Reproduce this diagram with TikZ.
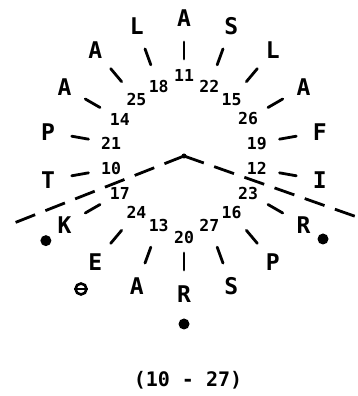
\documentclass[tikz,border=0pt]{standalone}
\usepackage{fontspec}
\setmonofont{DejaVu Sans Mono}
\usetikzlibrary{calc}
\tikzset{
  rs letter/.style={font=\ttfamily\bfseries\fontsize{23}{23}\selectfont, inner sep=0pt},
  rs number/.style={font=\ttfamily\bfseries\fontsize{16.5}{16.5}\selectfont, inner sep=0pt},
  rs tick/.style={line width=2.8pt, line cap=round},
  rs split/.style={line width=2.8pt, dash pattern=on 21pt off 11pt},
  rs hub/.style={circle, fill=black, minimum size=5pt, inner sep=0pt},
  rs dot/.style={circle, fill=black, minimum size=11pt, inner sep=0pt},
  rs ring/.style={circle, draw=black, line width=2.6pt, minimum size=11pt, inner sep=0pt},
  rs title/.style={font=\ttfamily\bfseries\fontsize{20}{20}\selectfont}
}

\begin{document}
\begin{tikzpicture}[x=1pt, y=1pt]
  \useasboundingbox (0,0) rectangle (357,396);
  \node[rs hub] (c) at (184,240) {};
  % spokes: angle / number / letter / number radius
  \foreach \a/\n/\l/\r in {90/11/A/81, 70/22/S/74, 50/15/L/74, 30/26/A/74,
      10/19/F/74, -10/12/I/74, -30/23/R/74, -50/16/P/74, -70/27/S/74,
      -90/20/R/81, -110/13/A/74, -130/24/E/74, -150/17/K/74, -170/10/T/74,
      170/21/P/74, 150/14/A/74, 130/25/A/74, 110/18/L/74} {
    \node[rs number] (n\n) at ($(c.center)+(\a:\r)$) {\n};
    \draw[rs tick] ($(c.center)+(\a:97)$) -- ($(c.center)+(\a:114)$);
    \node[rs letter] (l\n) at ($(c.center)+(\a:138)$) {\l};
  }
  % split line
  \coordinate (wl) at (9,171);
  \coordinate (er) at (357,179);
  \draw[rs split] (c.center) -- (wl);
  \draw[rs split] (c.center) -- (er);
  % marks
  \node[rs dot] (dk) at ($(c.center)+(211.5:162)$) {};
  \node[rs ring] (de) at (81,107) {};
  \draw[line width=2pt] (de.west) -- (de.east);
  \node[rs dot] (dr) at (184,72) {};
  \node[rs dot] (di) at (323,157) {};
  \node[rs title] (range) at (188,16) {(10 - 27)};
\end{tikzpicture}
\end{document}
